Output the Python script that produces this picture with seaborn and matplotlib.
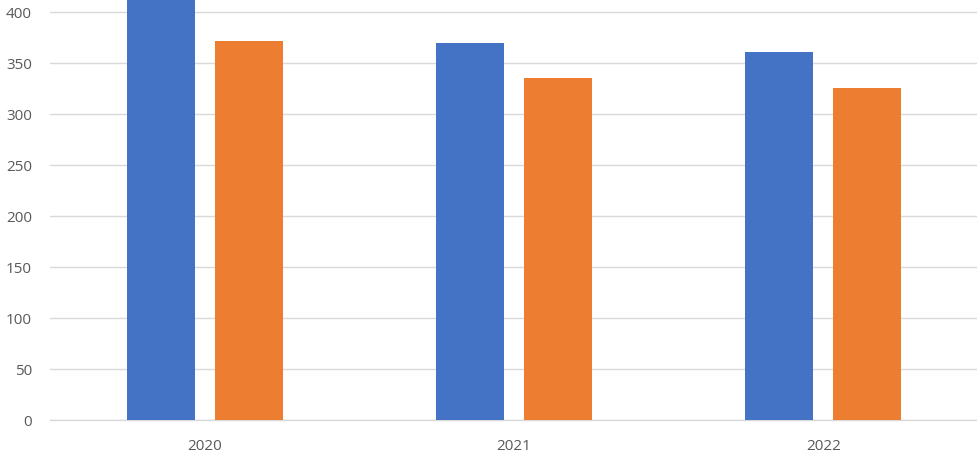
import matplotlib
matplotlib.use("Agg")
import matplotlib.pyplot as plt
import seaborn as sns
import pandas as pd

years = ["2020", "2021", "2022"]
series_names = ["Series 1", "Series 2"]
series1 = [415, 370, 361]
series2 = [372, 335, 326]
yticks = [0, 50, 100, 150, 200, 250, 300, 350, 400]

df = pd.DataFrame({
    "year": years * 2,
    "series": [series_names[0]] * 3 + [series_names[1]] * 3,
    "value": series1 + series2,
})

sns.set_theme(style="white")
plt.rcParams["font.family"] = ["Open Sans", "DejaVu Sans"]

fig = plt.figure(figsize=(9.78, 4.55), dpi=100)
ax = fig.add_axes([50 / 978, 35 / 455, 928 / 978, 420 / 455])

sns.barplot(data=df, x="year", y="value", hue="series",
            palette=["#4472C4", "#ED7D31"], width=0.568, gap=0.225,
            saturation=1, legend=False, ax=ax, zorder=3, linewidth=0)

ax.set_xlim(-0.5, 2.5)
ax.set_ylim(0, 411.8)
ax.set_yticks(yticks)
ax.set_yticklabels([str(t) for t in yticks])
ax.yaxis.grid(True, color="#D9D9D9", linewidth=1, zorder=0)
ax.set_axisbelow(True)
for s in ["top", "right", "left"]:
    ax.spines[s].set_visible(False)
ax.spines["bottom"].set_color("#D9D9D9")
ax.spines["bottom"].set_linewidth(1)
ax.tick_params(axis="both", length=0, colors="#595959", labelsize=11)
ax.tick_params(axis="y", pad=13)
ax.tick_params(axis="x", pad=14)
ax.set_xlabel("")
ax.set_ylabel("")

fig.savefig("out.png", dpi=100)
